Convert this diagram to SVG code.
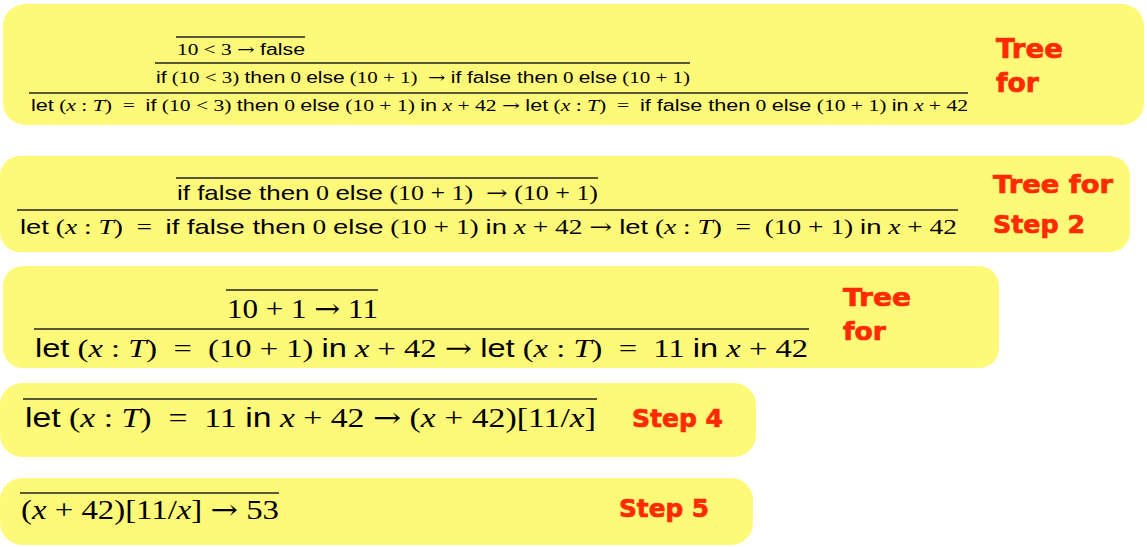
<svg xmlns="http://www.w3.org/2000/svg" width="1147" height="547" viewBox="0 0 1147 547">
<style>
.box{fill:#fff97a}
.rule{stroke:#222;stroke-width:1.3}
.m{font-family:"Liberation Serif","DejaVu Serif",serif;fill:#000}
.s{font-family:"Liberation Sans","DejaVu Sans",sans-serif}
.a{font-family:"DejaVu Serif","Liberation Serif",serif}
.i{font-style:italic}
.lab{font-family:"DejaVu Sans","Liberation Sans",sans-serif;font-weight:bold;fill:#ff2a00;stroke:#ff2a00;stroke-width:0.7}
</style>
<rect width="1147" height="547" fill="#fff"/>

<g id="step1">
<rect class="box" x="3" y="4" width="1141" height="121" rx="22"/>
<line class="rule" x1="176" y1="37" x2="305" y2="37"/>
<text class="m" x="177" y="55" font-size="16" textLength="128" lengthAdjust="spacingAndGlyphs">10 &lt; 3 <tspan class="a">→</tspan> <tspan class="s">false</tspan></text>
<line class="rule" x1="155" y1="63" x2="690" y2="63"/>
<text class="m" x="156" y="83" font-size="16" textLength="534" lengthAdjust="spacingAndGlyphs"><tspan class="s">if</tspan> (10 &lt; 3) <tspan class="s">then</tspan> 0 <tspan class="s">else</tspan> (10 + 1) &#160;<tspan class="a">→</tspan> <tspan class="s">if false then</tspan> 0 <tspan class="s">else</tspan> (10 + 1)</text>
<line class="rule" x1="29" y1="93" x2="968" y2="93"/>
<text class="m" x="31" y="111" font-size="16" textLength="937" lengthAdjust="spacingAndGlyphs"><tspan class="s">let</tspan> (<tspan class="i">x</tspan> : <tspan class="i">T</tspan>) &#160;= &#160;<tspan class="s">if</tspan> (10 &lt; 3) <tspan class="s">then</tspan> 0 <tspan class="s">else</tspan> (10 + 1) <tspan class="s">in</tspan> <tspan class="i">x</tspan> + 42 <tspan class="a">→</tspan> <tspan class="s">let</tspan> (<tspan class="i">x</tspan> : <tspan class="i">T</tspan>) &#160;= &#160;<tspan class="s">if false then</tspan> 0 <tspan class="s">else</tspan> (10 + 1) <tspan class="s">in</tspan> <tspan class="i">x</tspan> + 42</text>
<text class="lab" x="996" y="58" font-size="27" textLength="67" lengthAdjust="spacingAndGlyphs">Tree</text>
<text class="lab" x="996" y="92" font-size="27" textLength="43" lengthAdjust="spacingAndGlyphs">for</text>
</g>

<g id="step2">
<rect class="box" x="0" y="156" width="1130" height="96" rx="20"/>
<line class="rule" x1="176" y1="178" x2="598" y2="178"/>
<text class="m" x="177" y="200" font-size="21" textLength="421" lengthAdjust="spacingAndGlyphs"><tspan class="s">if false then</tspan> 0 <tspan class="s">else</tspan> (10 + 1) &#160;<tspan class="a">→</tspan> (10 + 1)</text>
<line class="rule" x1="17" y1="210" x2="958" y2="210"/>
<text class="m" x="20" y="234" font-size="21" textLength="937" lengthAdjust="spacingAndGlyphs"><tspan class="s">let</tspan> (<tspan class="i">x</tspan> : <tspan class="i">T</tspan>) &#160;= &#160;<tspan class="s">if false then</tspan> 0 <tspan class="s">else</tspan> (10 + 1) <tspan class="s">in</tspan> <tspan class="i">x</tspan> + 42 <tspan class="a">→</tspan> <tspan class="s">let</tspan> (<tspan class="i">x</tspan> : <tspan class="i">T</tspan>) &#160;= &#160;(10 + 1) <tspan class="s">in</tspan> <tspan class="i">x</tspan> + 42</text>
<text class="lab" x="993" y="193" font-size="25" textLength="120" lengthAdjust="spacingAndGlyphs">Tree for</text>
<text class="lab" x="993" y="233" font-size="25" textLength="92" lengthAdjust="spacingAndGlyphs">Step 2</text>
</g>

<g id="step3">
<rect class="box" x="3" y="266" width="996" height="102" rx="20"/>
<line class="rule" x1="226" y1="290" x2="378" y2="290"/>
<text class="m" x="227" y="318" font-size="27" textLength="151" lengthAdjust="spacingAndGlyphs">10 + 1 <tspan class="a">→</tspan> 11</text>
<line class="rule" x1="34" y1="329" x2="809" y2="329"/>
<text class="m" x="35" y="357" font-size="26" textLength="773" lengthAdjust="spacingAndGlyphs"><tspan class="s">let</tspan> (<tspan class="i">x</tspan> : <tspan class="i">T</tspan>) &#160;= &#160;(10 + 1) <tspan class="s">in</tspan> <tspan class="i">x</tspan> + 42 <tspan class="a">→</tspan> <tspan class="s">let</tspan> (<tspan class="i">x</tspan> : <tspan class="i">T</tspan>) &#160;= &#160;11 <tspan class="s">in</tspan> <tspan class="i">x</tspan> + 42</text>
<text class="lab" x="843" y="306" font-size="25" textLength="68" lengthAdjust="spacingAndGlyphs">Tree</text>
<text class="lab" x="843" y="340" font-size="25" textLength="43" lengthAdjust="spacingAndGlyphs">for</text>
</g>

<g id="step4">
<rect class="box" x="0" y="383" width="756" height="74" rx="22"/>
<line class="rule" x1="23" y1="399" x2="597" y2="399"/>
<text class="m" x="25" y="427" font-size="27" textLength="571" lengthAdjust="spacingAndGlyphs"><tspan class="s">let</tspan> (<tspan class="i">x</tspan> : <tspan class="i">T</tspan>) &#160;= &#160;11 <tspan class="s">in</tspan> <tspan class="i">x</tspan> + 42 <tspan class="a">→</tspan> (<tspan class="i">x</tspan> + 42)[11/<tspan class="i">x</tspan>]</text>
<text class="lab" x="632" y="427" font-size="25" textLength="91" lengthAdjust="spacingAndGlyphs">Step 4</text>
</g>

<g id="step5">
<rect class="box" x="0" y="478" width="753" height="67" rx="22"/>
<line class="rule" x1="20" y1="493" x2="279" y2="493"/>
<text class="m" x="21" y="519" font-size="27" textLength="258" lengthAdjust="spacingAndGlyphs">(<tspan class="i">x</tspan> + 42)[11/<tspan class="i">x</tspan>] <tspan class="a">→</tspan> 53</text>
<text class="lab" x="619" y="517" font-size="25" textLength="90" lengthAdjust="spacingAndGlyphs">Step 5</text>
</g>

<g id="connectors"></g>
</svg>
